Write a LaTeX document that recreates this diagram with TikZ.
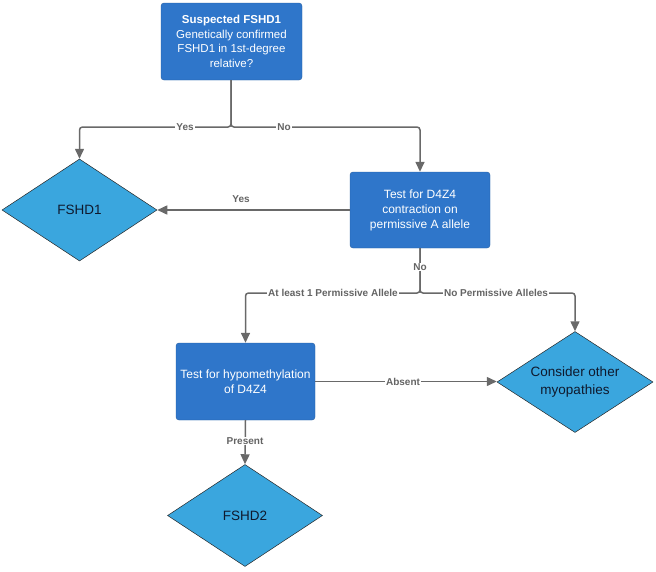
\documentclass[tikz,border=0pt]{standalone}
\usepackage{fontspec}
\setmainfont{Liberation Sans}
\usetikzlibrary{shapes.geometric,arrows.meta}
\definecolor{boxblue}{RGB}{47,118,202}
\definecolor{diablue}{RGB}{58,166,222}
\definecolor{linegray}{RGB}{105,105,105}
\definecolor{labgray}{RGB}{100,100,100}
\definecolor{diatext}{RGB}{15,25,45}
\tikzset{
  procbox/.style={draw=boxblue!80!black, line width=0.4pt, fill=boxblue, rounded corners=3pt, text=white,
    minimum width=140pt, minimum height=77pt, align=center, inner sep=2pt,
    font=\fontsize{12}{15}\selectfont},
  decide/.style={diamond, draw=black!85, line width=0.5pt, fill=diablue, text=diatext, inner sep=0pt,
    minimum width=155pt, minimum height=102pt, shape aspect=1.52, align=center,
    font=\fontsize{13.5}{18}\selectfont},
  conn/.style={draw=linegray, line width=1.5pt, rounded corners=3pt},
  arr/.style={conn, -{Triangle[length=10pt,width=9pt]}},
  labtext/.style={text=labgray, inner sep=1pt, font=\bfseries\fontsize{10}{12}\selectfont},
  lab/.style={labtext, fill=white}
}
\begin{document}
\begin{tikzpicture}[x=1pt,y=-1pt]
\useasboundingbox (0,0) rectangle (656,571);
\node[procbox, minimum width=141pt, font=\fontsize{11.5}{14.5}\selectfont] (q1) at (231.5,41.5) {\textbf{Suspected FSHD1}\\Genetically confirmed\\FSHD1 in 1st-degree\\relative?};
\node[decide] (fshd1) at (79.5,210) {FSHD1};
\node[procbox, minimum height=76pt] (t1) at (420,210) {Test for D4Z4\\contraction on\\permissive A allele};
\node[procbox, minimum width=139pt] (t2) at (245.5,381.5) {Test for hypomethylation\\of D4Z4};
\node[decide, minimum width=156pt, minimum height=101pt, shape aspect=1.54] (other) at (575,382) {Consider other\\myopathies};
\node[decide] (fshd2) at (245,515.5) {FSHD2};
\coordinate (j1) at (231,127);
\coordinate (j2) at (420,293);
\draw[arr] (q1.south -| j1) -- (j1) -| (fshd1.north);
\draw[arr] (q1.south -| j1) -- (j1) -| (t1.north);
\node[lab] (yes1) at (185,127) {Yes};
\node[lab] (no1) at (284,127) {No};
\draw[arr] (t1.west) -- (fshd1.east);
\node[labtext] (yes2) at (241,199) {Yes};
\draw[arr] (t1.south) -- (j2) -| (t2.north);
\draw[arr] (t1.south) -- (j2) -| (other.north);
\node[lab] (no2) at (420,267) {No};
\node[lab] (atleast) at (333,293) {At least 1 Permissive Allele};
\node[lab] (nonep) at (496,293) {No Permissive Alleles};
\draw[arr] (t2.east) -- (t2.east -| other.west);
\node[lab] (absent) at (403,381.5) {Absent};
\draw[arr] (t2.south) -- (fshd2.north);
\node[lab] (present) at (245,441) {Present};
\end{tikzpicture}
\end{document}
